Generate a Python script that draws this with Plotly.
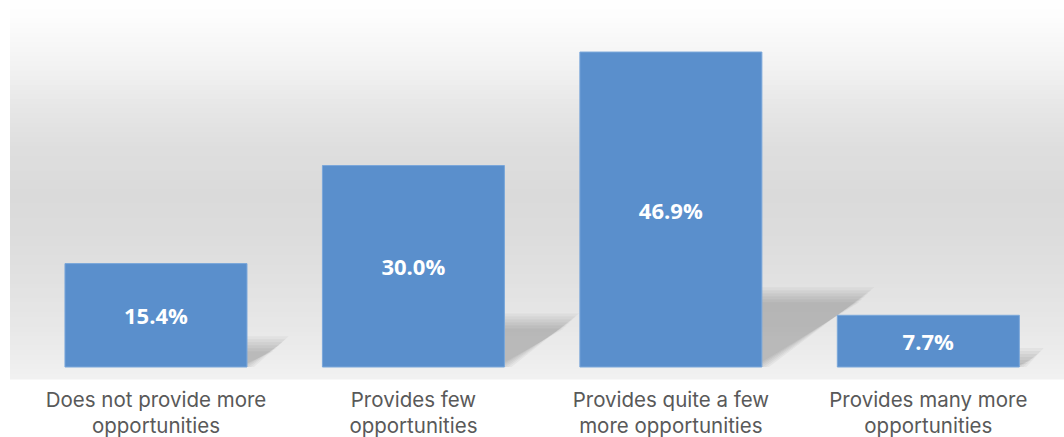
import plotly.graph_objects as go

categories = ["Does not provide more<br>opportunities", "Provides few<br>opportunities",
              "Provides quite a few<br>more opportunities", "Provides many more<br>opportunities"]
values = [15.4, 30.0, 46.9, 7.7]
value_labels = ["15.4%", "30.0%", "46.9%", "7.7%"]

positions = list(range(len(categories)))
BAR_W = 0.707
Y_RANGE = [-1.787, 54.65]
X_RANGE = [-0.567, 3.527]
PX_X = 257.5   # pixels per x unit
PX_Y = 6.716   # pixels per y unit

fig = go.Figure()

fig.add_trace(go.Bar(
    x=positions, y=values, width=BAR_W,
    marker=dict(color="#5a8fcc", line=dict(color="#7aa7da", width=1)),
    text=value_labels, textposition="inside", insidetextanchor="middle",
    textfont=dict(family="Open Sans", size=22, color="white", weight="bold"),
    hoverinfo="skip",
))

shapes = []
# background vertical gradient: (fraction from top, gray level)
stops = [(0.0, 254), (0.04, 253), (0.16, 244), (0.27, 232), (0.40, 222),
         (0.52, 218), (0.64, 221), (0.78, 227), (0.90, 234), (1.0, 241)]
def gray_at(t):
    for (t0, g0), (t1, g1) in zip(stops[:-1], stops[1:]):
        if t0 <= t <= t1:
            return g0 + (g1 - g0) * (t - t0) / (t1 - t0)
    return stops[-1][1]
N = 80
for i in range(N):
    y1 = 1 - i / N
    y0 = 1 - (i + 1) / N
    g = int(round(gray_at((i + 0.5) / N)))
    shapes.append(dict(type="rect", xref="paper", yref="paper", x0=0, x1=1,
                       y0=y0 - 0.001, y1=y1 + 0.001, layer="below", line=dict(width=0),
                       fillcolor=f"rgb({g},{g},{g})"))

# soft perspective shadows behind bars (layered to imitate blur)
for p, v in zip(positions, values):
    dxp = 2.25 * v      # horizontal offset of shadow top, px
    dyp = 1.55 * v      # height of shadow, px
    xl = p - BAR_W / 2
    xr = p + BAR_W / 2
    for e in [-8, -5, -2, 1, 4, 7]:
        ex = e / PX_X
        ey = e / PX_Y
        top = max(dyp / PX_Y + ey, 0.3)
        path = (f"M {xl},0 L {xr + ex},0 L {xr + dxp / PX_X + ex},{top} "
                f"L {xl + dxp / PX_X},{top} Z")
        shapes.append(dict(type="path", xref="x", yref="y", path=path, layer="below",
                           line=dict(width=0), fillcolor="rgba(50,50,50,0.05)"))

fig.update_layout(
    width=1064, height=437,
    margin=dict(l=10, r=0, t=0, b=58, autoexpand=False),
    paper_bgcolor="white", plot_bgcolor="rgba(0,0,0,0)",
    showlegend=False,
    shapes=shapes,
    xaxis=dict(range=X_RANGE, tickvals=positions, ticktext=categories,
               showgrid=False, zeroline=False, showline=False, automargin=False,
               ticks="outside", ticklen=2, tickcolor="rgba(0,0,0,0)",
               tickfont=dict(family="Inter", size=20.5, color="#595959")),
    yaxis=dict(range=Y_RANGE, visible=False, showgrid=False, zeroline=False,
               automargin=False),
)

fig.write_html("out.html", config={"displayModeBar": False},
               post_script="document.body.style.margin='0';")
